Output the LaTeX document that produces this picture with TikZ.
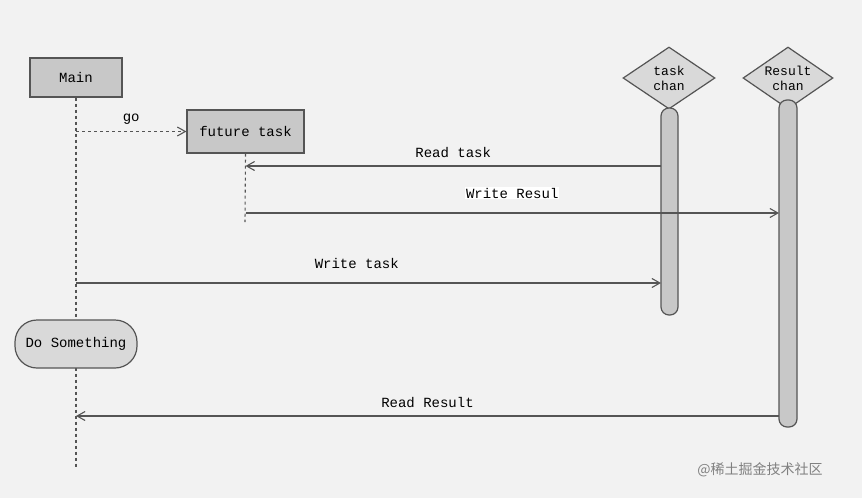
\documentclass[tikz,border=0pt]{standalone}
\usepackage{fontspec}
\setmainfont{Liberation Mono}
\newfontfamily\cjk{Noto Sans CJK SC}
\usetikzlibrary{shapes.geometric,arrows.meta}
\definecolor{bg}{HTML}{F2F2F2}
\definecolor{boxg}{HTML}{C8C8C8}
\definecolor{ln}{HTML}{555555}
\begin{document}
\begin{tikzpicture}[x=1pt,y=-1pt,font=\fontsize{14}{16}\selectfont,
  box/.style={draw=ln,fill=boxg,line width=1.2pt,minimum height=39pt,inner sep=0pt},
  dia/.style={diamond,draw=ln,fill=boxg!70,line width=1.2pt,minimum width=92pt,minimum height=62pt,inner sep=0pt,align=center,font=\fontsize{13}{15}\selectfont,aspect=1.5},
  bar/.style={draw=ln,fill=boxg,line width=1.2pt,rounded corners=8pt},
  life/.style={draw=ln,dashed,line width=1.1pt},
  msg/.style={draw=ln,line width=1.1pt,-{Straight Barb[length=8pt,width=9pt]}},
  lbl/.style={inner sep=1pt}]
\fill[bg] (0,0) rectangle (862,498);
\useasboundingbox (0,0) rectangle (862,498);
\node[box,minimum width=92pt] (main) at (76,77.5) {Main};
\node[box,minimum width=117pt,minimum height=43pt] (ft) at (245.5,131.5) {future task};
\node[dia] (tc) at (669,78) {task\\chan};
\node[dia,minimum width=90pt] (rc) at (788,78) {Result\\chan};
\draw[bar] (661,108) rectangle (678,315);
\draw[bar] (779,100) rectangle (797,427);
\coordinate (tcb) at (661,0);
\coordinate (rcb) at (779,0);
\coordinate (m1) at (76,468);
\coordinate (f1) at (245,222);
\draw[life] (main.south) -- (m1);
\draw[life] (ft.south) -- (f1);
\node[draw=ln,line width=1.2pt,fill=boxg!70,rounded corners=22pt,minimum width=122pt,minimum height=48pt] (ds) at (76,344) {Do Something};
\draw[msg,dashed] (main.south |- ft) -- node[lbl,above=6pt,pos=0.5]{go} (ft.west);
\draw[msg] (tcb |- 0,166) -- node[lbl,above=7pt]{Read task} (ft.south |- 0,166);
\draw[msg] (ft.south |- 0,213) -- node[lbl,above=13pt,fill=white,pos=0.5]{Write Resul} (rcb |- 0,213);
\draw[msg] (main.south |- 0,283) -- node[lbl,above=13pt,pos=0.48]{Write task} (tcb |- 0,283);
\draw[msg] (rcb |- 0,416) -- node[lbl,above=7pt]{Read Result} (main.south |- 0,416);
\node[text=gray,font=\cjk\fontsize{14}{16}\selectfont] (wm) at (760,470) {@稀土掘金技术社区};
\end{tikzpicture}
\end{document}
